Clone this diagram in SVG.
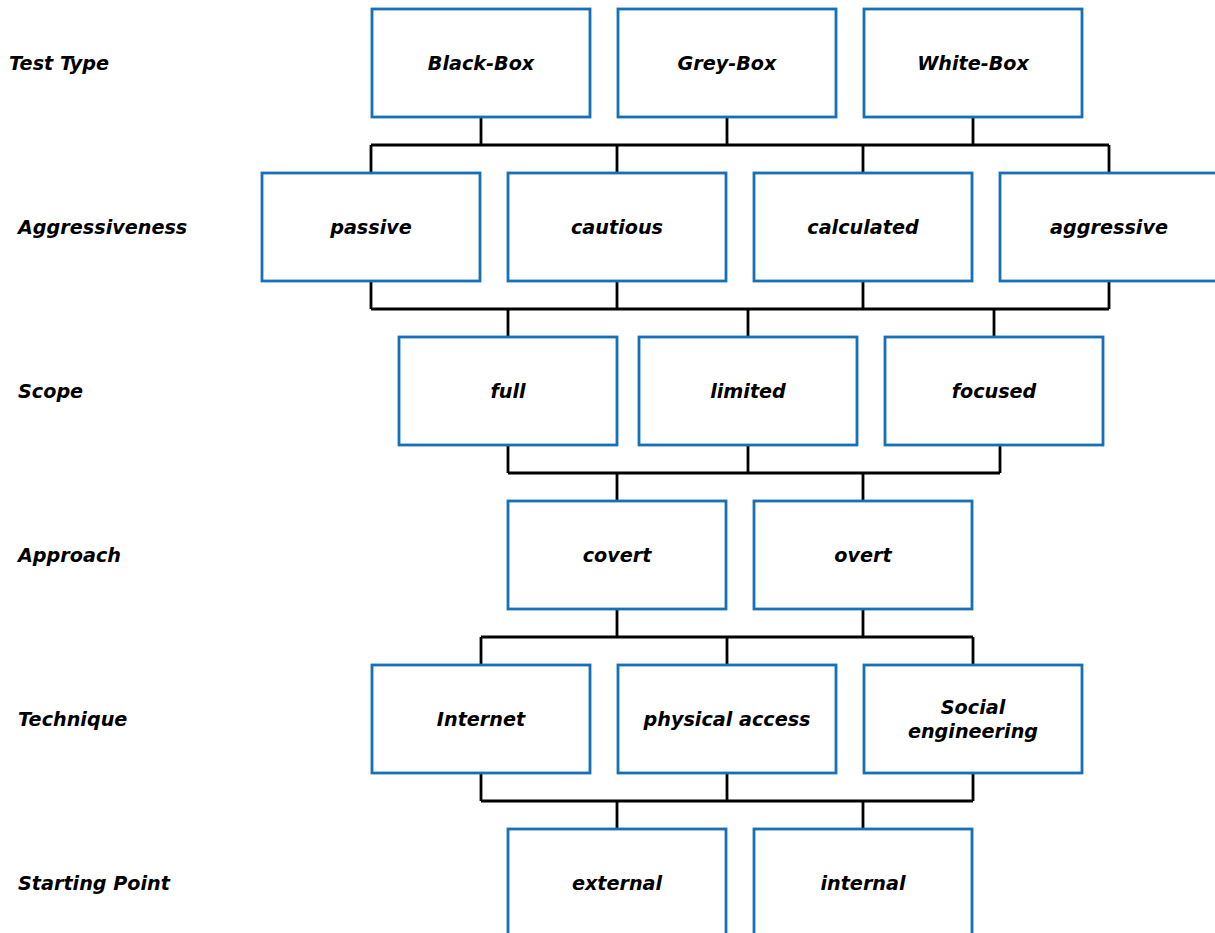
<svg xmlns="http://www.w3.org/2000/svg" width="1215" height="933" viewBox="0 0 1215 933">
<style>
.box{fill:#fff;stroke:#1570b8;stroke-width:2.8}
.t{font-family:"DejaVu Sans",sans-serif;font-weight:bold;font-style:italic;font-size:19.2px;fill:#000;text-anchor:middle;dominant-baseline:central}
.l{font-family:"DejaVu Sans",sans-serif;font-weight:bold;font-style:italic;font-size:19.2px;fill:#000;dominant-baseline:central}
.c{fill:none;stroke:#000;stroke-width:2.8}
</style>
<rect width="1215" height="933" fill="#fff"/>
<g id="labels">
<text class="l" x="9" y="63">Test Type</text>
<text class="l" x="18" y="227">Aggressiveness</text>
<text class="l" x="18" y="391">Scope</text>
<text class="l" x="18" y="555">Approach</text>
<text class="l" x="18" y="719">Technique</text>
<text class="l" x="18" y="883">Starting Point</text>
</g>
<g id="connectors">
<path class="c" d="M481 117V145M727 117V145M973 117V145M371 145H1109M371 145V173M617 145V173M863 145V173M1109 145V173"/>
<path class="c" d="M371 281V309M617 281V309M863 281V309M1109 281V309M371 309H1109M508 309V337M748 309V337M994 309V337"/>
<path class="c" d="M508 445V473M748 445V473M1000 445V473M508 473H1000M617 473V501M863 473V501"/>
<path class="c" d="M617 609V637M863 609V637M481 637H973M481 637V665M727 637V665M973 637V665"/>
<path class="c" d="M481 773V801M727 773V801M973 773V801M481 801H973M617 801V829M863 801V829"/>
</g>
<g id="black-box"><rect class="box" x="372" y="9" width="218" height="108"/><text class="t" x="481" y="63">Black-Box</text></g>
<g id="grey-box"><rect class="box" x="618" y="9" width="218" height="108"/><text class="t" x="727" y="63">Grey-Box</text></g>
<g id="white-box"><rect class="box" x="864" y="9" width="218" height="108"/><text class="t" x="973" y="63">White-Box</text></g>
<g id="passive"><rect class="box" x="262" y="173" width="218" height="108"/><text class="t" x="371" y="227">passive</text></g>
<g id="cautious"><rect class="box" x="508" y="173" width="218" height="108"/><text class="t" x="617" y="227">cautious</text></g>
<g id="calculated"><rect class="box" x="754" y="173" width="218" height="108"/><text class="t" x="863" y="227">calculated</text></g>
<g id="aggressive"><rect class="box" x="1000" y="173" width="218" height="108"/><text class="t" x="1109" y="227">aggressive</text></g>
<g id="full"><rect class="box" x="399" y="337" width="218" height="108"/><text class="t" x="508" y="391">full</text></g>
<g id="limited"><rect class="box" x="639" y="337" width="218" height="108"/><text class="t" x="748" y="391">limited</text></g>
<g id="focused"><rect class="box" x="885" y="337" width="218" height="108"/><text class="t" x="994" y="391">focused</text></g>
<g id="covert"><rect class="box" x="508" y="501" width="218" height="108"/><text class="t" x="617" y="555">covert</text></g>
<g id="overt"><rect class="box" x="754" y="501" width="218" height="108"/><text class="t" x="863" y="555">overt</text></g>
<g id="internet"><rect class="box" x="372" y="665" width="218" height="108"/><text class="t" x="481" y="719">Internet</text></g>
<g id="physical-access"><rect class="box" x="618" y="665" width="218" height="108"/><text class="t" x="727" y="719">physical access</text></g>
<g id="social-engineering"><rect class="box" x="864" y="665" width="218" height="108"/><text class="t" x="973" y="707">Social</text><text class="t" x="973" y="731">engineering</text></g>
<g id="external"><rect class="box" x="508" y="829" width="218" height="108"/><text class="t" x="617" y="883">external</text></g>
<g id="internal"><rect class="box" x="754" y="829" width="218" height="108"/><text class="t" x="863" y="883">internal</text></g>
</svg>
